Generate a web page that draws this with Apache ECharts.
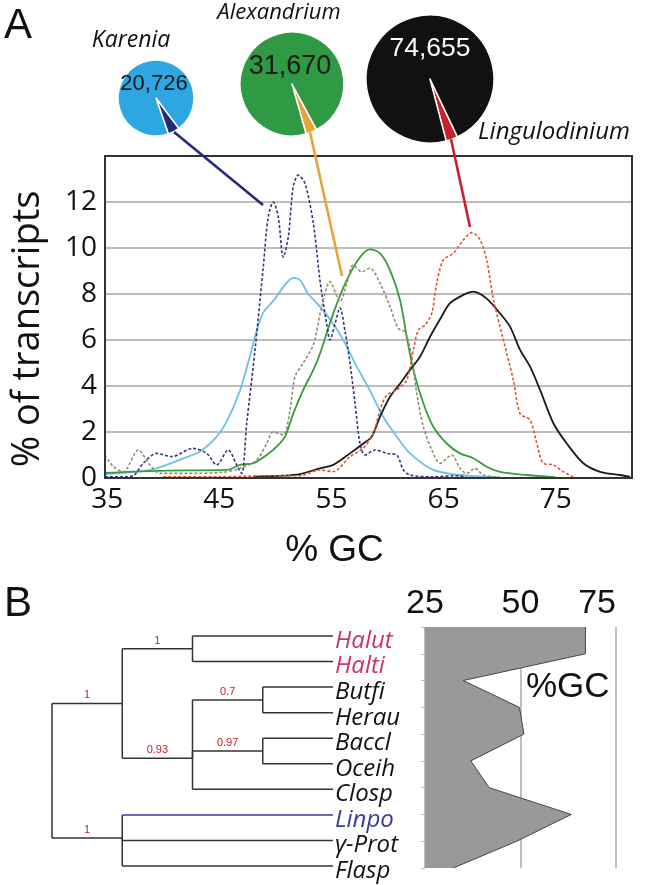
<!DOCTYPE html>
<html><head><meta charset="utf-8">
<script src="https://cdn.jsdelivr.net/npm/echarts@6/dist/echarts.min.js"></script>
<style>html,body{margin:0;padding:0;background:#fff}#c{width:649px;height:885px}</style>
</head><body><div id="c"></div>
<script>
// ---------- Panel A data ----------
const xTicks = [35, 45, 55, 65, 75];
const yTicks = [0, 2, 4, 6, 8, 10, 12];
const speciesNames = ['Karenia', 'Alexandrium', 'Lingulodinium'];
const transcriptTotals = [20726, 31670, 74655];
const wedgeShare = [5, 3.5, 3]; // % of transcripts in the coloured wedge (estimated)

// [%GC, % of transcripts]
const karAll = [[34.79,0.17],[38.81,0.35],[41.78,0.85],[43.27,1.15],[44.76,1.8],[45.65,2.45],[46.84,3.8],[47.73,5.3],[48.33,6.4],[48.92,7.2],[49.81,7.7],[50.85,8.4],[51.59,8.7],[52.19,8.6],[52.93,8.0],[53.97,7.45],[55.16,6.7],[56.05,6.0],[57.25,4.85],[58.43,3.8],[59.62,2.65],[60.82,1.8],[62.0,1.07],[64.08,0.35],[66.46,0.13],[70,0.03]];
const karSub = [[34.79,0.05],[36.4,0.05],[37.32,0.1],[38.21,0.64],[39.41,1.07],[40.74,0.93],[42.67,1.29],[43.87,1.07],[44.76,0.57],[45.79,1.22],[46.54,0.57],[46.99,0.2],[47.44,2.38],[48.18,5.57],[48.92,9.2],[49.36,11.36],[49.81,12.0],[50.25,11.36],[50.7,9.6],[51.15,10.5],[51.59,12.67],[52.04,13.17],[52.64,12.8],[53.38,11.07],[53.97,8.6],[54.57,6.7],[54.87,6.0],[55.31,6.7],[55.76,7.4],[56.2,6.4],[56.65,5.0],[57.1,3.25],[57.54,1.5],[57.99,1.0],[58.88,1.22],[59.92,1.07],[60.82,1.0],[61.41,0.35],[62.0,0.13],[64,0.05],[66,0.1],[67,0.05]];
const alexAll = [[34.79,0.22],[37.32,0.28],[40.3,0.32],[45.65,0.35],[46.84,0.57],[48.02,0.64],[49.22,1.0],[50.11,1.36],[50.85,1.8],[51.59,2.8],[52.48,3.83],[53.38,4.7],[53.97,5.4],[55.16,7.16],[56.36,8.6],[57.54,9.6],[58.43,9.94],[59.33,9.77],[60.22,9.04],[61.11,7.74],[61.71,6.14],[62.3,4.7],[63.19,3.25],[64.08,2.23],[65.28,1.5],[66.46,1.07],[67.65,0.86],[68.84,0.49],[70.03,0.27],[72.41,0.13],[75,0.03]];
const alexSub = [[34.79,1.0],[35.54,0.5],[36.43,0.27],[37.77,1.22],[38.81,0.57],[39.7,0.2],[42.08,0.2],[45.32,0.25],[46.84,0.42],[48.33,0.78],[49.22,1.5],[49.81,2.0],[50.7,1.87],[51.3,2.96],[51.74,4.4],[52.48,5.0],[53.38,5.8],[54.13,7.45],[54.87,8.54],[55.76,7.67],[56.36,8.46],[56.94,9.26],[57.69,8.97],[58.43,9.12],[59.33,8.46],[60.22,7.45],[60.96,6.5],[61.56,6.36],[62.15,5.27],[62.6,3.68],[63.19,2.23],[63.94,1.22],[64.68,0.64],[65.72,1.0],[66.46,0.42],[67.06,0.2],[67.8,0.42],[68.54,0.13],[70,0.03]];
const lingAll = [[48,0.05],[50.7,0.1],[52.19,0.17],[53.97,0.42],[55.16,0.57],[56.65,1.07],[57.84,1.5],[58.59,1.8],[59.33,2.67],[60.22,3.53],[61.11,4.1],[62.0,4.7],[62.89,5.27],[63.79,6.14],[64.68,6.9],[65.57,7.6],[66.76,7.96],[67.65,8.1],[68.84,7.8],[70.03,7.16],[70.92,6.58],[71.82,5.57],[72.71,4.84],[73.6,3.83],[74.79,2.38],[75.98,1.5],[77.46,0.64],[78.95,0.27],[80.73,0.13],[81.63,0.05]];
const lingSub = [[40,0.05],[45,0.05],[49.22,0.1],[52.19,0.1],[53.97,0.35],[55.16,0.28],[56.65,0.93],[57.84,1.3],[58.73,1.94],[59.33,2.96],[59.92,3.6],[60.82,3.83],[61.71,4.26],[62.3,5.57],[62.74,6.43],[63.34,6.65],[63.94,7.16],[64.38,8.46],[64.97,9.48],[65.87,9.77],[66.76,10.35],[67.51,10.67],[68.25,10.35],[68.84,9.48],[69.43,7.8],[70.33,6.0],[71.22,4.26],[71.82,2.8],[72.71,2.52],[73.31,1.5],[73.89,0.64],[74.79,0.57],[75.68,0.27],[76.57,0.05]];

// ---------- Panel B data ----------
const leafNames = ['Halut','Halti','Butfi','Herau','Baccl','Oceih','Closp','Linpo','γ-Prot','Flasp'];
const leafParent = ['C','C','E','E','F','F','D','B','B','B'];
const leafGroup = ['halo','halo','other','other','other','other','other','lin','other','other'];
const nodeNames = ['root','A','B','C','D','E','F'];
const nodeDepth = [0, 1, 1, 2, 2, 3, 3];
const nodeRow = [5.27, 2.64, 7.9, 0.5, 4.78, 2.5, 4.5];
const nodeParent = [null, 'root', 'root', 'A', 'A', 'D', 'D'];
const nodeSupport = [null, '1', '1', '1', '0.93', '0.7', '0.97'];
const leafDepth = 4;
const gcPercent = [67, 67, 35, 49.7, 50.9, 37, 41.8, 63.3, 49, 32.4];
const gcTicks = [25, 50, 75];

// ---------- build ----------
const groupColor = {halo: '#cc3366', lin: '#3a3a9a', other: '#111'};
const edges = [];
nodeNames.forEach((n, i) => {
  if (nodeParent[i] === null) return;
  const p = nodeNames.indexOf(nodeParent[i]);
  edges.push({pd: nodeDepth[p], pr: nodeRow[p], cd: nodeDepth[i], cr: nodeRow[i], support: nodeSupport[i], leaf: -1});
});
leafNames.forEach((n, i) => {
  const p = nodeNames.indexOf(leafParent[i]);
  edges.push({pd: nodeDepth[p], pr: nodeRow[p], cd: leafDepth, cr: i, support: null, leaf: i});
});

const chart = echarts.init(document.getElementById('c'));
const OS = '"Open Sans", sans-serif';
const AR = '"Liberation Sans", Arial, sans-serif';

function curve(data, color, dashed) {
  return {type: 'line', xAxisIndex: 0, yAxisIndex: 0, data: data, smooth: 0.3, symbol: 'none', silent: true,
    lineStyle: {color: color, width: dashed ? 1.6 : 1.8, type: dashed ? [3, 2] : 'solid'}, z: dashed ? 4 : 3};
}
const pieMain = ['#2da6e1', '#2f9944', '#111111'];
const pieWedge = ['#27297a', '#e6a53a', '#c8202f'];
const pieCenter = [[156, 98], [292, 84], [430, 79]];
const pieRadius = [38, 52, 64];
const wedgeMid = [28, 22, 20]; // wedge direction, degrees from 6 o'clock towards 3 o'clock
const pies = speciesNames.map((s, i) => ({
  type: 'pie', center: pieCenter[i], radius: pieRadius[i], silent: true, animation: false,
  startAngle: -90 + wedgeMid[i] + wedgeShare[i] * 3.6 / 2, clockwise: true,
  label: {show: false}, labelLine: {show: false},
  itemStyle: {borderColor: '#fff', borderWidth: 1.5},
  data: [{value: wedgeShare[i], itemStyle: {color: pieWedge[i]}}, {value: 100 - wedgeShare[i], itemStyle: {color: pieMain[i]}}]
}));

const numColor = ['#1a1a1a', '#1a1a1a', '#ffffff'];
const numPos = [[154, 84, 22], [290, 67, 27], [430, 49, 26.5]];
const namePos = [[131, 40, 23], [279, 13, 22], [554, 132, 24]];
const graphics = [];
speciesNames.forEach((s, i) => {
  graphics.push({type: 'text', x: namePos[i][0], y: namePos[i][1], z: 100,
    style: {text: s, font: 'italic ' + namePos[i][2] + 'px ' + OS, fill: '#111', align: 'center', verticalAlign: 'middle'}});
  graphics.push({type: 'text', x: numPos[i][0], y: numPos[i][1], z: 100,
    style: {text: transcriptTotals[i].toLocaleString('en-US'), font: numPos[i][2] + 'px ' + AR, fill: numColor[i], align: 'center', verticalAlign: 'middle'}});
});
const pointers = [[[174, 132], [263, 205]], [[310, 132], [342, 276]], [[451, 139], [470, 227]]];
pointers.forEach((p, i) => graphics.push({type: 'line', z: 100,
  shape: {x1: p[0][0], y1: p[0][1], x2: p[1][0], y2: p[1][1]}, style: {stroke: pieWedge[i], lineWidth: 2.6}}));
graphics.push({type: 'text', x: 18, y: 26, z: 100, style: {text: 'A', font: '42px ' + AR, fill: '#111', align: 'center', verticalAlign: 'middle'}});
graphics.push({type: 'text', x: 18, y: 604, z: 100, style: {text: 'B', font: '42px ' + AR, fill: '#111', align: 'center', verticalAlign: 'middle'}});
graphics.push({type: 'text', x: 526, y: 687, z: 100, style: {text: '%GC', font: '35px ' + AR, fill: '#111', align: 'left', verticalAlign: 'middle'}});

const option = {
  backgroundColor: '#fff',
  animation: false,
  grid: [
    {left: 105, top: 156, width: 527, height: 322, show: true, borderColor: '#333', borderWidth: 2, z: 5},
    {left: 52, top: 636, width: 281, height: 230},
    {left: 425, top: 627, width: 191, height: 241}
  ],
  xAxis: [
    {gridIndex: 0, type: 'value', min: 34.8, max: 81.8, axisLine: {show: false}, axisTick: {show: false}, splitLine: {show: false},
      axisLabel: {customValues: xTicks, fontSize: 28, fontFamily: OS, color: '#111', margin: 8},
      name: '% GC', nameLocation: 'middle', nameGap: 54,
      nameTextStyle: {fontSize: 37, fontFamily: AR, color: '#111', padding: [0, 68, 0, 0]}},
    {gridIndex: 1, type: 'value', min: 0, max: leafDepth, show: false},
    {gridIndex: 2, type: 'value', min: 25, max: 75, interval: 25, position: 'top',
      axisLine: {show: false}, axisTick: {show: false},
      splitLine: {show: true, lineStyle: {color: '#aaa', width: 1.5}},
      axisLabel: {customValues: gcTicks, fontSize: 34, fontFamily: AR, color: '#111', margin: 6, alignMaxLabel: 'right'}}
  ],
  yAxis: [
    {gridIndex: 0, type: 'value', min: 0, max: 14, interval: 2, axisLine: {show: false}, axisTick: {show: false},
      splitLine: {show: true, showMinLine: false, showMaxLine: false, lineStyle: {color: '#bdbdbd', width: 2}},
      axisLabel: {customValues: yTicks, fontSize: 28, fontFamily: OS, color: '#111', margin: 8},
      name: '% of transcripts', nameLocation: 'middle', nameGap: 58, nameRotate: 90,
      nameTextStyle: {fontSize: 38, fontFamily: OS, color: '#111', padding: [0, 24, 0, 0]}},
    {gridIndex: 1, type: 'value', min: 0, max: leafNames.length - 1, inverse: true, show: false},
    {gridIndex: 2, type: 'category', data: leafNames, inverse: true, boundaryGap: false,
      axisLine: {show: false}, axisLabel: {show: false},
      axisTick: {show: true, length: 4, lineStyle: {color: '#bbb'}}, splitLine: {show: false}}
  ],
  graphic: graphics,
  series: [
    curve(karAll, '#6cc0ec', false),
    curve(alexAll, '#3a9a3e', false),
    curve(lingAll, '#1a1a1a', false),
    curve(karSub, '#35357e', true),
    curve(alexSub, '#958c70', true),
    curve(lingSub, '#e0552d', true),
    ...pies,
    {type: 'custom', xAxisIndex: 1, yAxisIndex: 1, clip: false, silent: true,
      data: edges.map(e => [e.pd, e.pr, e.cd, e.cr]),
      renderItem: function (params, api) {
        const e = edges[params.dataIndex];
        const p0 = api.coord([e.pd, e.pr]);
        const p1 = api.coord([e.pd, e.cr]);
        const p2 = api.coord([e.cd, e.cr]);
        const hColor = e.leaf >= 0 && leafGroup[e.leaf] === 'lin' ? groupColor.lin : '#333';
        const children = [
          {type: 'line', shape: {x1: p0[0], y1: p0[1], x2: p1[0], y2: p1[1]}, style: {stroke: '#333', lineWidth: 1.5}},
          {type: 'line', shape: {x1: p1[0], y1: p1[1], x2: p2[0], y2: p2[1]}, style: {stroke: hColor, lineWidth: 1.5}}
        ];
        if (e.support) children.push({type: 'text', x: (p1[0] + p2[0]) / 2, y: p2[1] - 8,
          style: {text: e.support, font: '11px "Liberation Sans Narrow", ' + AR, fill: '#c8202a', align: 'center', verticalAlign: 'middle'}});
        if (e.leaf >= 0) children.push({type: 'text', x: p2[0] + 2, y: p2[1] + 5,
          style: {text: leafNames[e.leaf], font: 'italic 24px ' + OS, fill: groupColor[leafGroup[e.leaf]], align: 'left', verticalAlign: 'middle'}});
        return {type: 'group', children: children};
      }},
    {type: 'line', xAxisIndex: 2, yAxisIndex: 2, data: gcPercent, symbol: 'none', silent: true,
      lineStyle: {color: '#444', width: 1}, areaStyle: {color: '#999', opacity: 1, origin: 'start'}}
  ]
};
chart.setOption(option);
</script></body></html>
